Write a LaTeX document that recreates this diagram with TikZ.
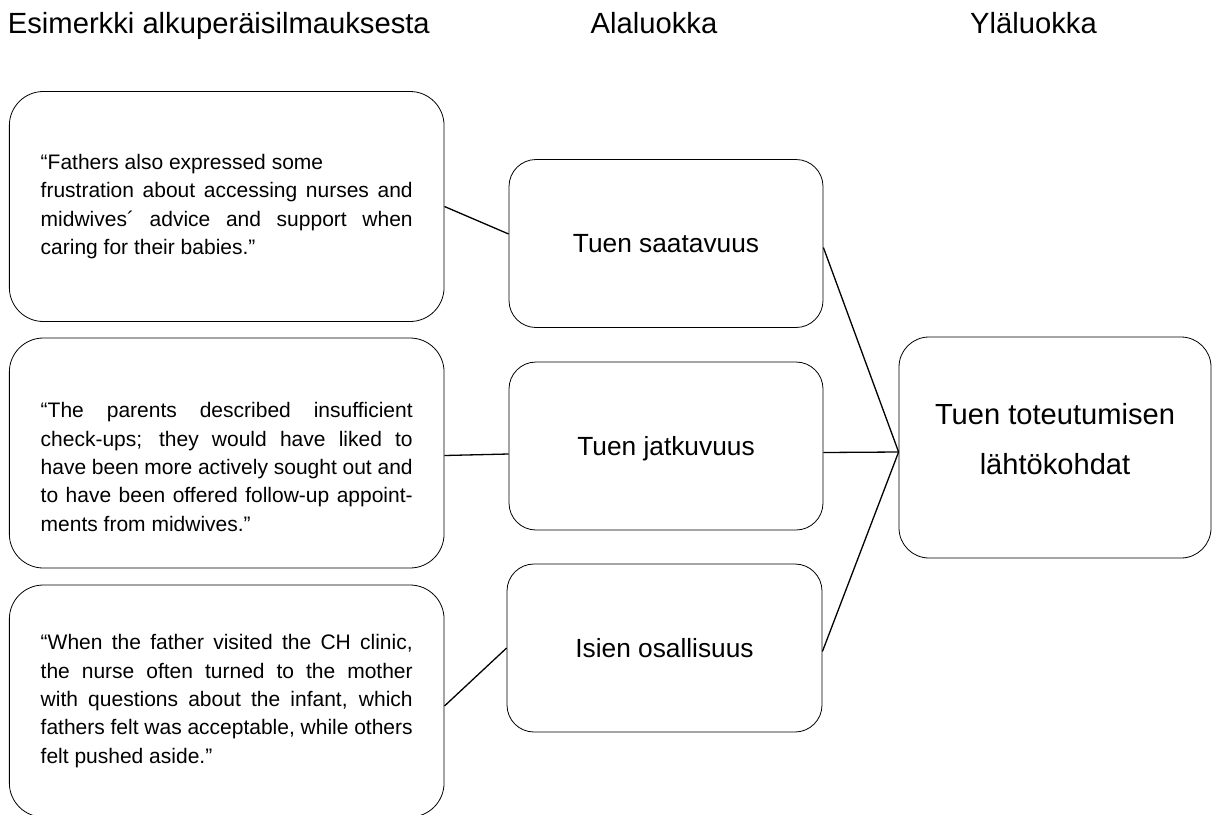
\documentclass[tikz,border=0pt]{standalone}
\usepackage{fontspec}
\setmainfont{Liberation Sans}
\begin{document}
\begin{tikzpicture}[x=1pt,y=-1pt,
  heading/.style={anchor=base west, inner sep=0pt, font=\fontsize{29.2}{35}\selectfont},
  quotebox/.style={draw, line width=0.8pt, rounded corners=34pt, minimum width=434.7pt,
    minimum height=230pt, inner sep=0pt, align=left, font=\fontsize{21}{28.3}\selectfont},
  catbox/.style={draw, line width=0.8pt, rounded corners=27pt, minimum width=314pt,
    minimum height=168pt, inner sep=0pt, text height=18.8pt, text depth=0pt,
    font=\fontsize{26.3}{30}\selectfont},
  mainbox/.style={draw, line width=0.8pt, rounded corners=30pt, minimum width=312pt,
    minimum height=221pt},
  maintext/.style={inner sep=0pt, align=center, font=\fontsize{29.1}{50}\selectfont},
  link/.style={line width=1.3pt}
]
\useasboundingbox (0,0) rectangle (1217,814);

% column headings
\node[heading] (h1) at (7.7,33) {Esimerkki alkuperäisilmauksesta};
\node[heading] (h2) at (590.5,33) {Alaluokka};
\node[heading] (h3) at (970,33) {Yläluokka};

% quotations
\node[quotebox] (q1) at (226.7,206.5) {%
  \makebox[372pt][l]{“Fathers also expressed some}\\
  \makebox[372pt][s]{frustration about accessing nurses and}\\
  \makebox[372pt][s]{midwives´ advice and support when}\\
  \makebox[372pt][l]{caring for their babies.”}};
% the strut in the first line sets this paragraph a little lower in its box
\node[quotebox] (q2) at (226.7,453) {%
  \rule{0pt}{43pt}\makebox[372pt][s]{“The parents described insufficient}\\
  \makebox[372pt][s]{check-ups; they would have liked to}\\
  \makebox[372pt][s]{have been more actively sought out and}\\
  \makebox[372pt][s]{to have been offered follow-up appoint-}\\
  \makebox[372pt][l]{ments from midwives.”}};
\node[quotebox, minimum height=232pt] (q3) at (226.7,701) {%
  \makebox[372pt][s]{“When the father visited the CH clinic,}\\
  \makebox[372pt][s]{the nurse often turned to the mother}\\
  \makebox[372pt][s]{with questions about the infant, which}\\
  \makebox[372pt][s]{fathers felt was acceptable, while others}\\
  \makebox[372pt][l]{felt pushed aside.”}};

% subcategories
\node[catbox] (a) at (666,243.5) {Tuen saatavuus};
\node[catbox] (b) at (666,446) {Tuen jatkuvuus};
\node[catbox, minimum width=315pt] (c) at (664.5,648) {Isien osallisuus};

% main category
\node[mainbox] (r) at (1055,447.5) {};
\node[maintext] (rt) at (1055,439.5) {Tuen toteutumisen\\lähtökohdat};
\coordinate (m) at ([yshift=-4.5pt]r.west);

% connectors
\draw[link] (q1.east) -- ([yshift=9.5pt]a.west);
\draw[link] ([yshift=-2.5pt]q2.east) -- ([yshift=-8pt]b.west);
\draw[link] ([yshift=-5pt]q3.east) -- (c.west);
\draw[link] ([yshift=-4pt]a.east) -- (m);
\draw[link] ([yshift=-6.5pt]b.east) -- (m);
\draw[link] ([yshift=-3.5pt]c.east) -- (m);
\end{tikzpicture}
\end{document}
